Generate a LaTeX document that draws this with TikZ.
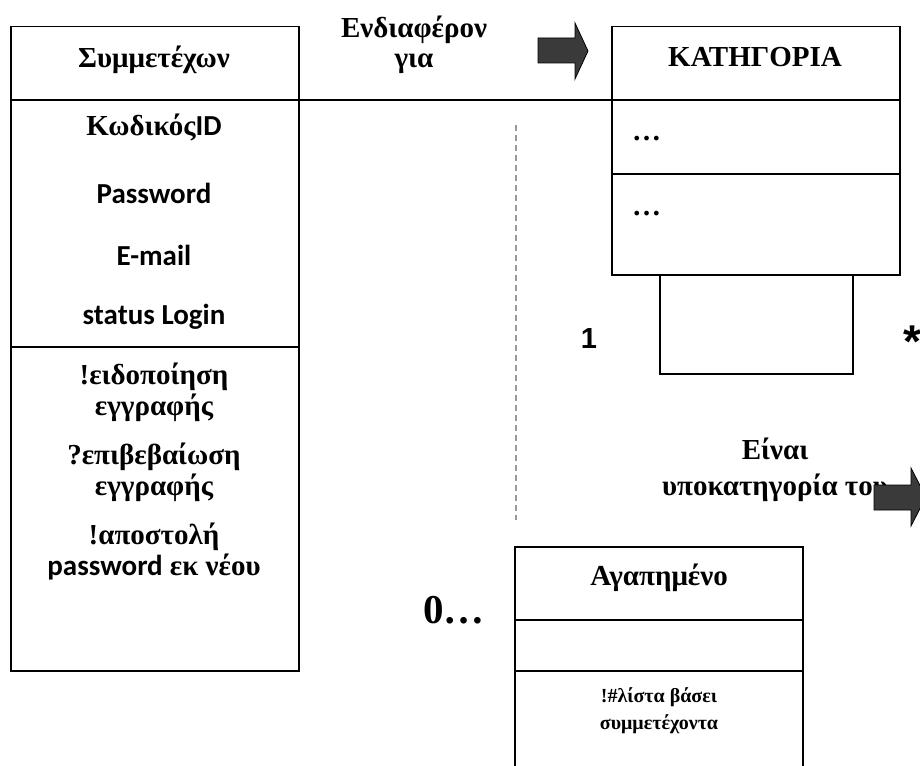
\documentclass[tikz,border=0pt]{standalone}
\usepackage{fontspec}
\setmainfont{Liberation Serif}
\newfontfamily\latfont{Carlito}
\newfontfamily\sansfont{Liberation Sans}
\definecolor{arrowfill}{HTML}{3A3A3A}
\definecolor{dashgray}{HTML}{9A9A9A}
\begin{document}
\begin{tikzpicture}[x=1pt,y=-1pt,
  classbox/.style={draw, line width=1.5pt, anchor=north west, inner sep=0pt},
  sepline/.style={line width=1.5pt},
  head/.style={font=\bfseries\fontsize{29}{32}\selectfont, align=center},
  attr/.style={font=\latfont\bfseries\fontsize{29}{32}\selectfont, align=center},
  oper/.style={font=\bfseries\fontsize{29}{31}\selectfont, align=center},
  small/.style={font=\bfseries\fontsize{20}{27}\selectfont, align=center},
  mult/.style={font=\sansfont\bfseries\fontsize{29}{32}\selectfont, inner sep=0pt, anchor=base},
  blockarrow/.style={fill=arrowfill, draw=black, line width=0.8pt, line join=miter},
  guide/.style={draw=dashgray, line width=1.3pt, dash pattern=on 6pt off 4pt}]
\useasboundingbox (0,0) rectangle (920,765);

% class Συμμετέχων
\node[classbox, minimum width=288pt, minimum height=644pt] (sym) at (10,26) {};
\draw[sepline] (sym.west |- 0,347) -- (sym.east |- 0,347);

% class ΚΑΤΗΓΟΡΙΑ with its lower box
\node[classbox, minimum width=288pt, minimum height=248pt] (kat) at (611,26) {};
\draw[sepline] (kat.west |- 0,174) -- (kat.east |- 0,174);
\node[classbox, minimum width=193pt, minimum height=99pt] (sub) at (659,274) {};

% class Αγαπημένο, running off the lower edge
\draw[sepline] (515,770) -- (515,547) -- (803,547) -- (803,770);
\draw[sepline] (515,620) -- (803,620);
\draw[sepline] (515,671) -- (803,671);

% association line along the header separators
\draw[sepline] (sym.west |- 0,100) -- (kat.east |- 0,100);

% dashed guide
\coordinate (guideTop) at (516,125);
\coordinate (guideBot) at (516,520);
\draw[guide] (guideTop) -- (guideBot);

% texts of Συμμετέχων
\node[head] (symname) at (154,60) {Συμμετέχων};
\node[attr] (a1) at (154,127) {{\rmfamily Κωδικός}ID};
\node[attr] (a2) at (154,193) {Password};
\node[attr] (a3) at (154,255) {E-mail};
\node[attr] (a4) at (154,317) {status Login};
\node[oper] (o1) at (154,392) {!ειδοποίηση\\εγγραφής};
\node[oper] (o2) at (154,472) {?επιβεβαίωση\\εγγραφής};
\node[oper] (o3) at (154,551) {!αποστολή\\{\latfont password} εκ νέου};

% texts of ΚΑΤΗΓΟΡΙΑ
\node[head] (katname) at (755,57) {ΚΑΤΗΓΟΡΙΑ};
\node[head, anchor=base west, inner sep=0pt] (d1) at (632,140) {…};
\node[head, anchor=base west, inner sep=0pt] (d2) at (632,215) {…};

% association labels
\node[head, font=\bfseries\fontsize{29}{30}\selectfont] (rel1) at (414,45) {Ενδιαφέρον\\για};
\node[head, font=\bfseries\fontsize{29}{36}\selectfont] (rel2) at (775,470) {Είναι\\υποκατηγορία του};
\node[mult] (m1) at (589,348) {1};
\node[mult, font=\sansfont\bfseries\fontsize{46}{50}\selectfont] (m2) at (912,357) {*};
\node[font=\bfseries\fontsize{41}{44}\selectfont, inner sep=0pt, anchor=base] (m3) at (454,623) {0…};

% texts of Αγαπημένο
\node[head] (favname) at (659,578) {Αγαπημένο};
\node[small] (f1) at (659,711) {!\#λίστα βάσει\\συμμετέχοντα};

% block arrows
\draw[blockarrow] (538,38) -- (575,38) -- (575,23) -- (588,51) -- (575,79) -- (575,63) -- (538,63) -- cycle;
\draw[blockarrow] (874,485) -- (911,485) -- (911,468) -- (926,497) -- (911,526) -- (911,510) -- (874,510) -- cycle;
\end{tikzpicture}
\end{document}
